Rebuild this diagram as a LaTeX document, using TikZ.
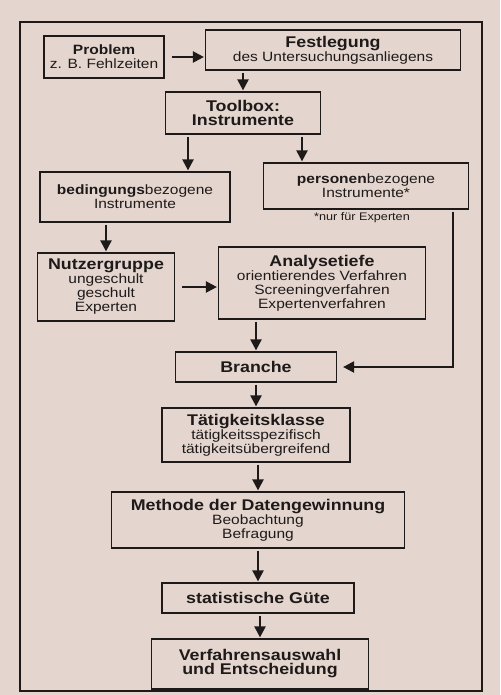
\documentclass[tikz,border=0pt]{standalone}
\usepackage{fontspec}
\setmainfont[FakeStretch=1.15]{Liberation Sans}
\usetikzlibrary{arrows.meta}
\definecolor{paper}{RGB}{228,214,206}
\definecolor{ink}{RGB}{30,26,26}
\newcommand{\ttl}[1]{{\bfseries\fontsize{15.5}{16}\selectfont #1}}

\begin{document}
\begin{tikzpicture}[x=1pt,y=1pt,yscale=-1,xscale=1,
  box/.style={draw=ink,line width=1.2pt,align=center,inner sep=0pt,text=ink,font=\fontsize{13.5}{14}\selectfont},
  note/.style={text=ink,inner sep=0pt,font=\fontsize{11}{12}\selectfont},
  arr/.style={draw=ink,line width=2.2pt,-{Triangle[length=11pt,width=11pt]},shorten <=2pt,shorten >=1pt}]
%page and outer frame
\fill[paper] (0,0) rectangle (500,695);
\useasboundingbox (0,0) rectangle (500,695);
\draw[ink,line width=1.2pt] (20,22) rectangle (482,691);

% Text Node
\node[box,minimum width=120pt,minimum height=42pt] (problem) at (104,57) {\textbf{Problem}\\z. B. Fehlzeiten};
% Text Node
\node[box,minimum width=255pt,minimum height=40pt] (fest) at (333,50) {\ttl{Festlegung}\\des Untersuchungsanliegens};
% Text Node
\node[box,minimum width=155pt,minimum height=42pt] (toolbox) at (243,113) {\ttl{Toolbox:}\\\ttl{Instrumente}};
% Text Node
\node[box,minimum width=190pt,minimum height=50pt] (bed) at (135,197) {\textbf{bedingungs}bezogene\\Instrumente};
% Text Node
\node[box,minimum width=205pt,minimum height=46pt] (pers) at (366,186) {\textbf{personen}bezogene\\Instrumente*};
\node[note] (fussnote) at (362,218) {*nur für Experten};
% Text Node
\node[box,minimum width=137pt,minimum height=68pt] (nutzer) at (106,287) {\ttl{Nutzergruppe}\\ungeschult\\geschult\\Experten};
% Text Node
\node[box,minimum width=207pt,minimum height=72pt] (analyse) at (322,283) {\ttl{Analysetiefe}\\orientierendes Verfahren\\Screeningverfahren\\Expertenverfahren};
% Text Node
\node[box,minimum width=161pt,minimum height=30pt] (branche) at (256,367) {\ttl{Branche}};
% Text Node
\node[box,minimum width=188pt,minimum height=54pt] (taet) at (256,435) {\ttl{Tätigkeitsklasse}\\tätigkeitsspezifisch\\tätigkeitsübergreifend};
% Text Node
\node[box,minimum width=293pt,minimum height=56pt] (methode) at (258,520) {\ttl{Methode der Datengewinnung}\\Beobachtung\\Befragung};
% Text Node
\node[box,minimum width=192pt,minimum height=30pt] (guete) at (258,598) {\ttl{statistische Güte}};
% Text Node
\node[box,minimum width=217pt,minimum height=50pt] (verf) at (260,664) {\ttl{Verfahrensauswahl}\\\ttl{und Entscheidung}};

%arrows
\draw[arr] ([xshift=5pt]problem.east) -- (problem.east -| fest.west);
\draw[arr] (fest.south -| toolbox.north) -- (toolbox.north);
\draw[arr] ([xshift=-55pt]toolbox.south) -- ([xshift=-55pt]toolbox.south |- bed.north);
\draw[arr] ([xshift=59pt]toolbox.south) -- ([xshift=59pt]toolbox.south |- pers.north);
\draw[arr] (bed.south -| nutzer.north) -- (nutzer.north);
\draw[arr] ([xshift=5pt]nutzer.east) -- (nutzer.east -| analyse.west);
\draw[arr] (analyse.south -| branche.north) -- (branche.north);
\draw[arr] ([xshift=-16pt]pers.south east) |- ([xshift=5pt]branche.east);
\foreach \a/\b in {branche/taet,taet/methode,methode/guete,guete/verf}
  \draw[arr] (\a.south -| \b.north) -- (\b.north);

\end{tikzpicture}
\end{document}
